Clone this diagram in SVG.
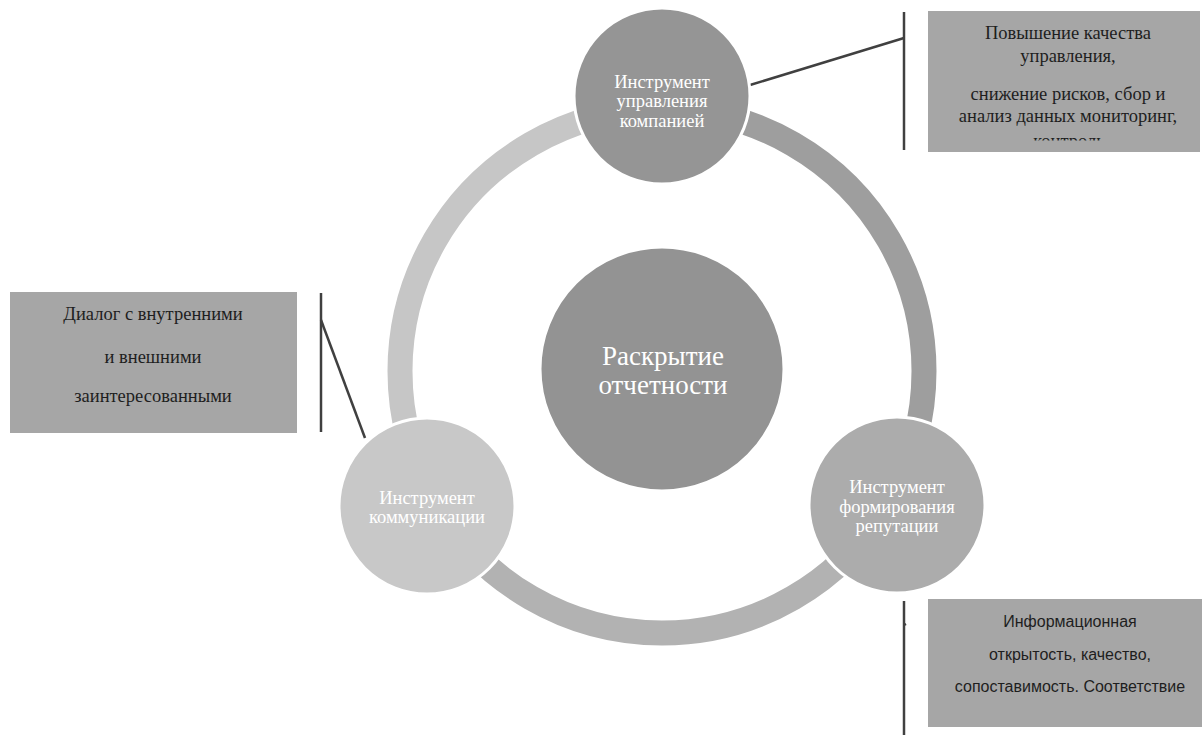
<svg xmlns="http://www.w3.org/2000/svg" width="1203" height="735" viewBox="0 0 1203 735">
<style>
.arc{fill:none;stroke-width:25;stroke-linecap:butt}
.node{stroke:#ffffff;stroke-width:3}
.ct{font-family:"Liberation Serif","Times New Roman",serif;font-size:18.5px;fill:#ffffff;text-anchor:middle}
.big{font-size:27px}
.box{fill:#a6a6a6}
.bt{font-family:"Liberation Serif","Times New Roman",serif;font-size:18.5px;fill:#1e1e1e;text-anchor:middle}
.st{font-family:"Liberation Sans",Arial,sans-serif;font-size:16px;fill:#1e1e1e;text-anchor:middle}
.ln{stroke:#404040;stroke-width:2.5;fill:none}
</style>
<defs>
<clipPath id="clipTop"><rect x="928" y="11" width="272" height="129.5"/></clipPath>
</defs>
<rect width="1203" height="735" fill="#ffffff"/>
<g id="ring">
<path class="arc" stroke="#9e9e9e" d="M 662 109 A 262 262 0 0 1 888.9 502"/>
<path class="arc" stroke="#b2b2b2" d="M 888.9 502 A 262 262 0 0 1 435.1 502"/>
<path class="arc" stroke="#c6c6c6" d="M 435.1 502 A 262 262 0 0 1 662 109"/>
</g>
<g id="connectors">
<line class="ln" x1="750" y1="85" x2="904" y2="38"/>
<line class="ln" x1="904" y1="12" x2="904" y2="150"/>
<line class="ln" x1="321" y1="320" x2="365" y2="438"/>
<line class="ln" x1="321" y1="293" x2="321" y2="432"/>
<line class="ln" x1="904" y1="601" x2="904" y2="735"/>
<line class="ln" x1="904" y1="625" x2="906" y2="624"/>
</g>
<g id="center">
<circle class="node" cx="662" cy="369" r="122" fill="#939393"/>
<text class="ct big" x="663" y="365">Раскрытие</text>
<text class="ct big" x="663" y="394">отчетности</text>
</g>
<g id="top">
<circle class="node" cx="662" cy="96" r="88" fill="#959595"/>
<text class="ct" x="662" y="87.5">Инструмент</text>
<text class="ct" x="662" y="107">управления</text>
<text class="ct" x="662" y="126.5">компанией</text>
</g>
<g id="right">
<circle class="node" cx="897" cy="505" r="88" fill="#acacac"/>
<text class="ct" x="897" y="493">Инструмент</text>
<text class="ct" x="897" y="513">формирования</text>
<text class="ct" x="897" y="532">репутации</text>
</g>
<g id="left">
<circle class="node" cx="427" cy="506" r="88" fill="#c8c8c8"/>
<text class="ct" x="427" y="504">Инструмент</text>
<text class="ct" x="427" y="523">коммуникации</text>
</g>
<g id="box-top">
<rect class="box" x="928" y="11" width="272" height="141"/>
<text class="bt" x="1068" y="39">Повышение качества</text>
<text class="bt" x="1068" y="62">управления,</text>
<text class="bt" x="1068" y="100">снижение рисков, сбор и</text>
<text class="bt" x="1068" y="122">анализ данных мониторинг,</text>
<text class="bt" x="1069" y="147" clip-path="url(#clipTop)">контроль</text>
</g>
<g id="box-left">
<rect class="box" x="10" y="292" width="287" height="141"/>
<text class="bt" x="153" y="320">Диалог с внутренними</text>
<text class="bt" x="153" y="363">и внешними</text>
<text class="bt" x="153" y="402">заинтересованными</text>
</g>
<g id="box-bottom">
<rect class="box" x="928" y="599" width="274" height="128"/>
<text class="st" x="1070" y="627">Информационная</text>
<text class="st" x="1070" y="660">открытость, качество,</text>
<text class="st" x="1070" y="692">сопоставимость. Соответствие</text>
</g>
</svg>
